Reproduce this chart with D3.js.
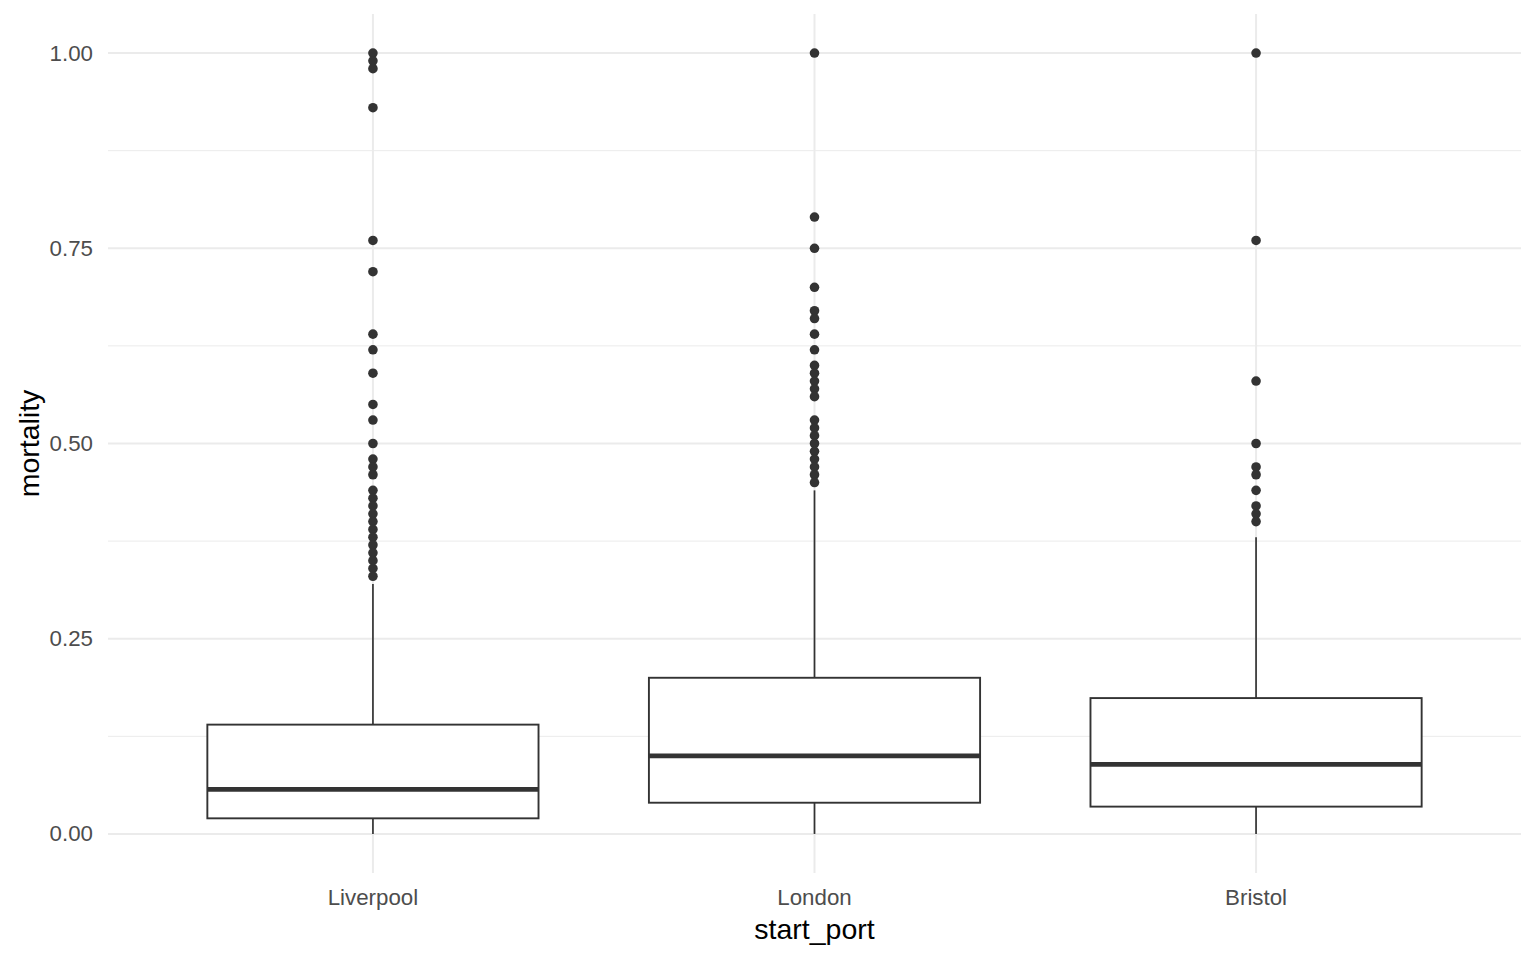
<!DOCTYPE html>
<html>
<head>
<meta charset="utf-8">
<script src="https://cdn.jsdelivr.net/npm/d3@7"></script>
<style>
  html, body { margin: 0; padding: 0; background: #ffffff; }
  svg { display: block; font-family: "Liberation Sans", Arial, sans-serif; }
</style>
</head>
<body>
<svg id="chart" width="1536" height="960"></svg>
<script>
// ---- data ----
const categories = ["Liverpool", "London", "Bristol"];
const lowerWhisker = [0.00, 0.00, 0.00];
const q1 = [0.02, 0.04, 0.035];
const median = [0.057, 0.10, 0.089];
const q3 = [0.14, 0.20, 0.174];
const upperWhisker = [0.32, 0.44, 0.38];
const outliersLiverpool = [1.00, 0.99, 0.98, 0.93, 0.76, 0.72, 0.64, 0.62, 0.59, 0.55, 0.53, 0.50,
  0.48, 0.47, 0.46, 0.44, 0.43, 0.42, 0.41, 0.40, 0.39, 0.38, 0.37, 0.36, 0.35, 0.34, 0.33];
const outliersLondon = [1.00, 0.79, 0.75, 0.70, 0.67, 0.66, 0.64, 0.62, 0.60, 0.59, 0.58, 0.57, 0.56,
  0.53, 0.52, 0.51, 0.50, 0.49, 0.48, 0.47, 0.46, 0.45];
const outliersBristol = [1.00, 0.76, 0.58, 0.50, 0.47, 0.46, 0.44, 0.42, 0.41, 0.40];
const outliers = [outliersLiverpool, outliersLondon, outliersBristol];
const yTicks = [0, 0.25, 0.5, 0.75, 1.0];
const yTickLabels = ["0.00", "0.25", "0.50", "0.75", "1.00"];
const yMinor = [0.125, 0.375, 0.625, 0.875];
const xTitle = "start_port";
const yTitle = "mortality";

// ---- layout ----
const panel = { left: 108, right: 1521, top: 14, bottom: 873 };
const svg = d3.select("#chart");

// discrete x: expansion 0.6 units each side
const x = d3.scaleLinear().domain([-0.6, categories.length - 1 + 0.6]).range([panel.left, panel.right]);
const y = d3.scaleLinear().domain([-0.05, 1.05]).range([panel.bottom, panel.top]);
const boxW = (x(1) - x(0)) * 0.75;

const grid = svg.append("g");
grid.selectAll("line.minor").data(yMinor).join("line")
  .attr("x1", panel.left).attr("x2", panel.right)
  .attr("y1", d => y(d)).attr("y2", d => y(d))
  .attr("stroke", "#ebebeb").attr("stroke-width", 1);
grid.selectAll("line.majorY").data(yTicks).join("line")
  .attr("x1", panel.left).attr("x2", panel.right)
  .attr("y1", d => y(d)).attr("y2", d => y(d))
  .attr("stroke", "#ebebeb").attr("stroke-width", 2);
grid.selectAll("line.majorX").data(categories).join("line")
  .attr("x1", (d, i) => x(i)).attr("x2", (d, i) => x(i))
  .attr("y1", panel.top).attr("y2", panel.bottom)
  .attr("stroke", "#ebebeb").attr("stroke-width", 2);

const col = "#333333";
const boxes = svg.append("g");
categories.forEach((c, i) => {
  const g = boxes.append("g");
  const cx = x(i);
  g.append("line").attr("x1", cx).attr("x2", cx)
    .attr("y1", y(q3[i])).attr("y2", y(upperWhisker[i]))
    .attr("stroke", col).attr("stroke-width", 1.7);
  g.append("line").attr("x1", cx).attr("x2", cx)
    .attr("y1", y(q1[i])).attr("y2", y(lowerWhisker[i]))
    .attr("stroke", col).attr("stroke-width", 1.7);
  g.append("rect").attr("x", cx - boxW / 2).attr("width", boxW)
    .attr("y", y(q3[i])).attr("height", y(q1[i]) - y(q3[i]))
    .attr("fill", "#ffffff").attr("stroke", col).attr("stroke-width", 1.9);
  g.append("line").attr("x1", cx - boxW / 2).attr("x2", cx + boxW / 2)
    .attr("y1", y(median[i])).attr("y2", y(median[i]))
    .attr("stroke", col).attr("stroke-width", 4.7);
  g.selectAll("circle").data(outliers[i]).join("circle")
    .attr("cx", cx).attr("cy", d => y(d)).attr("r", 4.8)
    .attr("fill", col);
});

svg.append("g").selectAll("text").data(yTicks).join("text")
  .attr("x", 93).attr("y", d => y(d))
  .attr("text-anchor", "end").attr("dominant-baseline", "central")
  .attr("font-size", 22.3).attr("fill", "#4d4d4d")
  .text((d, i) => yTickLabels[i]);

svg.append("g").selectAll("text").data(categories).join("text")
  .attr("x", (d, i) => x(i)).attr("y", 905)
  .attr("text-anchor", "middle")
  .attr("font-size", 22.3).attr("fill", "#4d4d4d")
  .text(d => d);

svg.append("text").attr("x", (panel.left + panel.right) / 2).attr("y", 939)
  .attr("text-anchor", "middle").attr("font-size", 28.5).attr("fill", "#000000")
  .text(xTitle);
svg.append("text")
  .attr("transform", `translate(39, ${(panel.top + panel.bottom) / 2}) rotate(-90)`)
  .attr("text-anchor", "middle").attr("font-size", 28.5).attr("fill", "#000000")
  .text(yTitle);
</script>
</body>
</html>
